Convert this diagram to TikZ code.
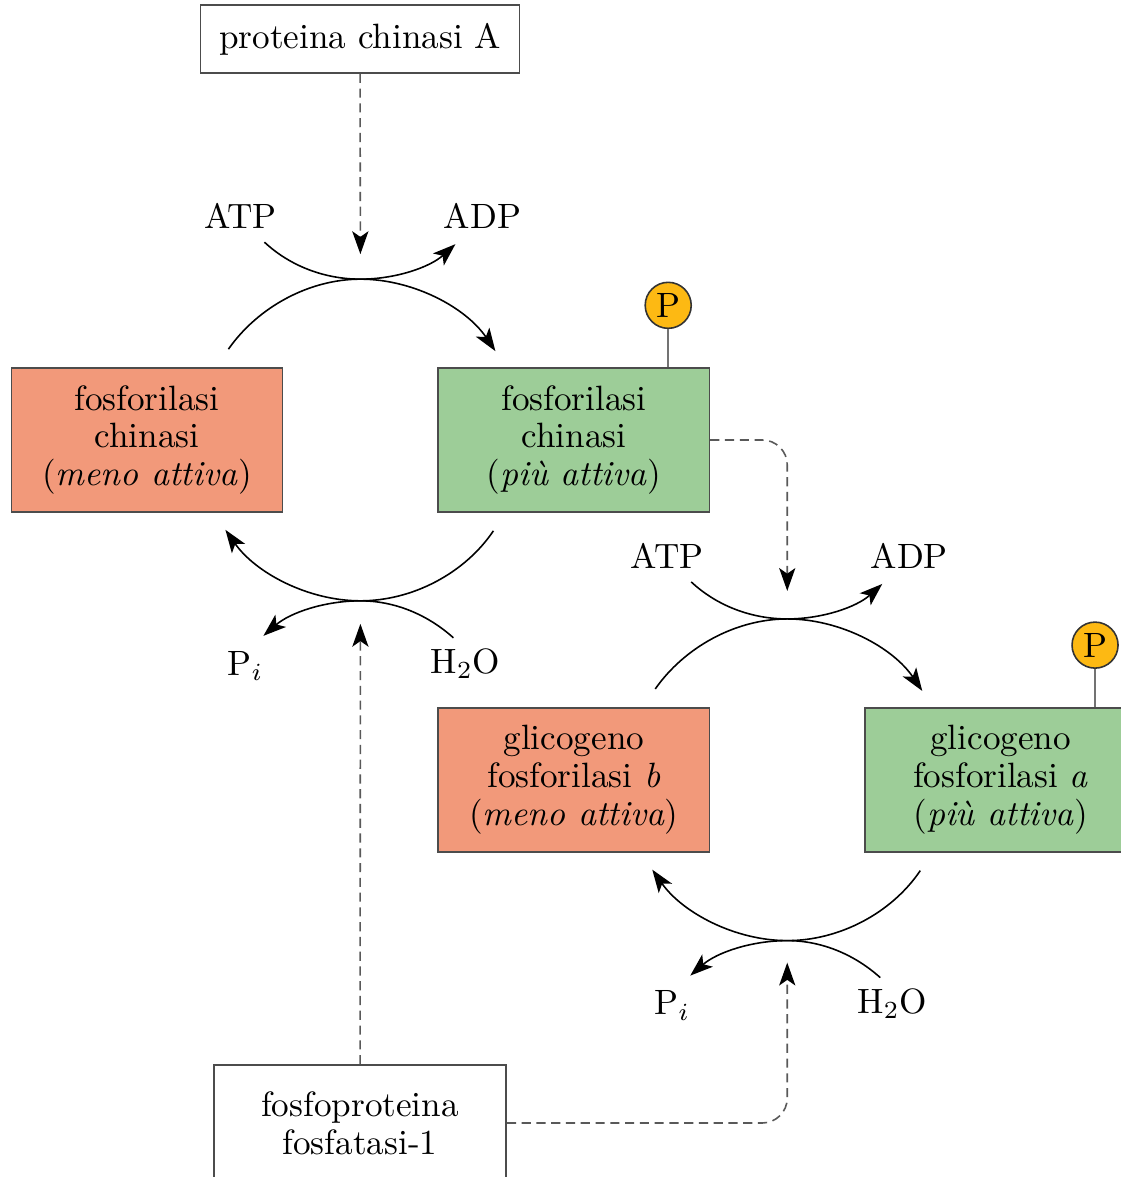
\documentclass[tikz,border=0pt]{standalone}
\usepackage{tikz}
\usetikzlibrary{arrows.meta, positioning, calc}

\definecolor{lessact}{RGB}{242,153,122}
\definecolor{moreact}{RGB}{157,205,152}
\definecolor{phosyel}{RGB}{253,185,19}

\begin{document}
\begin{tikzpicture}[x=0.01cm, y=-0.01cm, >={Stealth[length=6.5pt,width=4.6pt,inset=1.6pt]}, font=\fontsize{10}{10.7}\selectfont, line width=0.45pt]
  \tikzstyle{enzyme} = [rectangle, draw=black!70, minimum width=2.71cm, minimum height=1.44cm, align=center, inner sep=0pt]
  \tikzstyle{inactive} = [enzyme, fill=lessact]
  \tikzstyle{active} = [enzyme, fill=moreact]
  \tikzstyle{plain} = [rectangle, draw=black!70, align=center, inner sep=0pt]
  \tikzstyle{phos} = [circle, draw=black!80, fill=phosyel, minimum size=0.46cm, inner sep=0pt]
  \tikzstyle{signal} = [-{Stealth[length=6.5pt,width=4.6pt,inset=1.6pt,color=black]}, dash pattern=on 2.6pt off 1.6pt, draw=black!65]
  \tikzstyle{react} = [->, looseness=0.88]

  \useasboundingbox (0,0) rectangle (1120,1177);

  \node[plain, minimum width=3.19cm, minimum height=0.68cm] (pka) at (360,39) {proteina chinasi A};
  \node[inactive] (kinB) at (147,440) {fosforilasi\\chinasi\\(\textit{meno attiva})};
  \node[active, right=1.54cm of kinB] (kinA) {fosforilasi\\chinasi\\(\textit{più attiva})};
  \node[inactive, below=1.94cm of kinA] (glyB) {glicogeno\\fosforilasi \textit{b}\\(\textit{meno attiva})};
  \node[active, right=1.54cm of glyB] (glyA) {glicogeno\\fosforilasi \textit{a}\\(\textit{più attiva})};
  \node[plain, minimum width=2.92cm, minimum height=1.16cm] (pp1) at (360,1123) {fosfoproteina\\fosfatasi-1};

  % phosphate groups
  \coordinate (pinA) at ($(kinA.north east)+(-42,0)$);
  \node[phos, above=0.38cm of pinA] (pA) {P};
  \draw[black!55] (pA) -- (pinA);
  \coordinate (pinG) at ($(glyA.north east)+(-42,0)$);
  \node[phos, above=0.38cm of pinG] (pG) {P};
  \draw[black!55] (pG) -- (pinG);

  % where the two arcs of each cycle touch
  \coordinate (j1) at ($(kinB.north east)!0.5!(kinA.north west)+(0,-88)$);
  \coordinate (j1b) at ($(kinB.south east)!0.5!(kinA.south west)+(0,88)$);
  \coordinate (j2) at ($(glyB.north east)!0.5!(glyA.north west)+(0,-88)$);
  \coordinate (j2b) at ($(glyB.south east)!0.5!(glyA.south west)+(0,88)$);

  \foreach \u/\d in {j1/j1b, j2/j2b} {
    \node (atp-\u) at ($(\u)+(-120,-63)$) {ATP};
    \node (adp-\u) at ($(\u)+(122,-63)$) {ADP};
    \node (pi-\u) at ($(\d)+(-115,65)$) {P$_i$};
    \node (h2o-\u) at ($(\d)+(105,63)$) {H$_2$O};
    \coordinate (atpin-\u) at ($(\u)+(-96,-37)$);
    \coordinate (adpout-\u) at ($(\u)+(95,-35)$);
    \coordinate (up-\u) at ($(\u)+(-132,70)$);
    \coordinate (upend-\u) at ($(\u)+(135,72)$);
    \coordinate (dn-\u) at ($(\d)+(133,-70)$);
    \coordinate (dnend-\u) at ($(\d)+(-135,-71)$);
    \coordinate (h2oin-\u) at ($(\d)+(93,37)$);
    \coordinate (piout-\u) at ($(\d)+(-97,35)$);
    \draw[react] (atpin-\u) to[out=-43,in=180] (\u) to[out=0,in=-138] (adpout-\u);
    \draw[react] (up-\u) to[out=55,in=180] (\u) to[out=0,in=124] (upend-\u);
    \draw[react] (dn-\u) to[out=-124,in=0] (\d) to[out=180,in=-55] (dnend-\u);
    \draw[react] (h2oin-\u) to[out=138,in=0] (\d) to[out=180,in=41] (piout-\u);
  }

  % regulation
  \draw[signal, shorten >=0.25cm] (pka) -- (j1);
  \draw[signal, rounded corners=0.25cm, shorten >=0.28cm] (kinA) -| (j2);
  \draw[signal, shorten >=0.23cm] (pp1) -- (j1b);
  \draw[signal, rounded corners=0.25cm, shorten >=0.22cm] (pp1) -| (j2b);
\end{tikzpicture}
\end{document}
